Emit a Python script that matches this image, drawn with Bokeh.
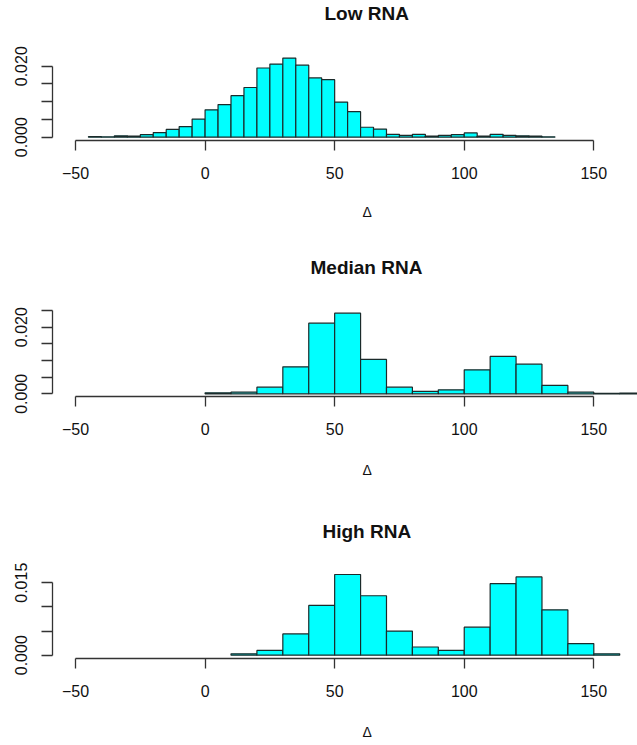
from bokeh.plotting import figure
from bokeh.layouts import column
from bokeh.models import Range1d, FixedTicker, LinearAxis
from bokeh.embed import file_html
from bokeh.resources import INLINE

# ---- data (density histograms) ----
low_left = [-45, -40, -35, -30, -25, -20, -15, -10, -5, 0, 5, 10, 15, 20, 25, 30, 35, 40,
            45, 50, 55, 60, 65, 70, 75, 80, 85, 90, 95, 100, 105, 110, 115, 120, 125, 130]
low_density = [0.0002, 0.0001, 0.0004, 0.0003, 0.0007, 0.0013, 0.0022, 0.0030, 0.0051,
               0.0077, 0.0092, 0.0117, 0.0140, 0.0195, 0.0206, 0.0223, 0.0203, 0.0167,
               0.0162, 0.0099, 0.0072, 0.0028, 0.0023, 0.0008, 0.0005, 0.0008, 0.0003,
               0.0005, 0.0007, 0.0012, 0.0003, 0.0008, 0.0005, 0.0004, 0.0003, 0.0001]
low_width = 5

med_left = [0, 10, 20, 30, 40, 50, 60, 70, 80, 90, 100, 110, 120, 130, 140, 150, 160]
med_density = [0.0003, 0.0005, 0.0020, 0.0081, 0.0212, 0.0242, 0.0103, 0.0020, 0.0007,
               0.0012, 0.0072, 0.0112, 0.0089, 0.0025, 0.0005, 0.0001, 0.0002]
med_width = 10

high_left = [10, 20, 30, 40, 50, 60, 70, 80, 90, 100, 110, 120, 130, 140, 150]
high_density = [0.0003, 0.0010, 0.0044, 0.0103, 0.0167, 0.0123, 0.0050, 0.0017, 0.0010,
                0.0058, 0.0148, 0.0162, 0.0094, 0.0024, 0.0003]
high_width = 10

titles = ["Low RNA", "Median RNA", "High RNA"]
x_ticks = [-50, 0, 50, 100, 150]
y_ticks_low = [0.0, 0.005, 0.010, 0.015, 0.020]
y_ticks_med = [0.0, 0.005, 0.010, 0.015, 0.020, 0.025]
y_ticks_high = [0.0, 0.005, 0.010, 0.015]
y_labels_low = {0.0: "0.000", 0.020: "0.020"}
y_labels_med = {0.0: "0.000", 0.020: "0.020"}
y_labels_high = {0.0: "0.000", 0.015: "0.015"}
xlabel = "Δ"
XLABEL_POS = 62.5   # centre of the plotting window (-50 .. 175)

FONT = "Liberation Sans"
X_START, X_END = -58.88, 166.86


def panel(title, title_off, lefts, dens, width, yticks, ylabels, height, btop, bbottom,
          y0, y1, xlab_standoff):
    p = figure(width=637, height=height, output_backend="svg", toolbar_location=None,
               x_range=Range1d(X_START, X_END), y_range=Range1d(y0, y1),
               min_border_left=52, min_border_right=0,
               min_border_top=btop, min_border_bottom=bbottom)
    p.outline_line_color = None
    p.xgrid.visible = False
    p.ygrid.visible = False
    p.background_fill_color = "white"
    p.border_fill_color = "white"

    p.title.text = title
    p.title.align = "left"
    p.title.offset = title_off
    p.title.standoff = 0
    p.title.text_font = FONT
    p.title.text_font_size = "19px"
    p.title.text_font_style = "bold"
    p.title.text_color = "#111111"

    rights = [l + width for l in lefts]
    p.quad(left=lefts, right=rights, bottom=0, top=dens,
           fill_color="#00ffff", line_color="#1b2b2b", line_width=1.2)

    xa = p.xaxis[0]
    xa.ticker = FixedTicker(ticks=x_ticks)
    xa.bounds = (x_ticks[0], x_ticks[-1])
    xa.major_tick_in = 0
    xa.major_tick_out = 10
    xa.minor_tick_in = 0
    xa.minor_tick_out = 0
    xa.major_label_standoff = 16
    xa.axis_line_color = "#333333"
    xa.major_tick_line_color = "#333333"
    xa.axis_line_width = 1.3
    xa.major_tick_line_width = 1.3
    xa.major_label_text_font = FONT
    xa.major_label_text_font_size = "16px"
    xa.major_label_text_color = "#111111"

    # second, invisible axis whose only tick label is the x label, centred on the window
    ax2 = LinearAxis(ticker=FixedTicker(ticks=[XLABEL_POS]),
                     major_label_overrides={XLABEL_POS: xlabel},
                     axis_line_color=None, major_tick_line_color=None,
                     minor_tick_line_color=None, major_tick_in=0, major_tick_out=0,
                     minor_tick_in=0, minor_tick_out=0,
                     major_label_standoff=xlab_standoff, major_label_text_font=FONT,
                     major_label_text_font_size="14px", major_label_text_color="#111111")
    p.add_layout(ax2, "below")

    ya = p.yaxis[0]
    ya.ticker = FixedTicker(ticks=yticks)
    ya.bounds = (yticks[0], yticks[-1])
    ya.major_tick_in = 0
    ya.major_tick_out = 11
    ya.minor_tick_in = 0
    ya.minor_tick_out = 0
    ya.major_label_standoff = 14
    ya.major_label_orientation = "vertical"
    ya.axis_line_color = "#333333"
    ya.major_tick_line_color = "#333333"
    ya.axis_line_width = 1.3
    ya.major_tick_line_width = 1.3
    ya.major_label_text_font = FONT
    ya.major_label_text_font_size = "16px"
    ya.major_label_text_color = "#111111"
    overrides = {}
    for t in yticks:
        overrides[t] = ylabels.get(t, "")
    ya.major_label_overrides = overrides
    return p


p1 = panel(titles[0], 272, low_left, low_density, low_width, y_ticks_low, y_labels_low,
           248, 23, 108, -0.00093, 0.03203, 22)
p2 = panel(titles[1], 258, med_left, med_density, med_width, y_ticks_med, y_labels_med,
           240, 29, 92, -0.00081, 0.03489, 24)
p3 = panel(titles[2], 270, high_left, high_density, high_width, y_ticks_high, y_labels_high,
           257, 53, 87, -0.00068, 0.02353, 24)

layout = column(p1, p2, p3, spacing=0)
open("out.html", "w").write(file_html(layout, INLINE))
